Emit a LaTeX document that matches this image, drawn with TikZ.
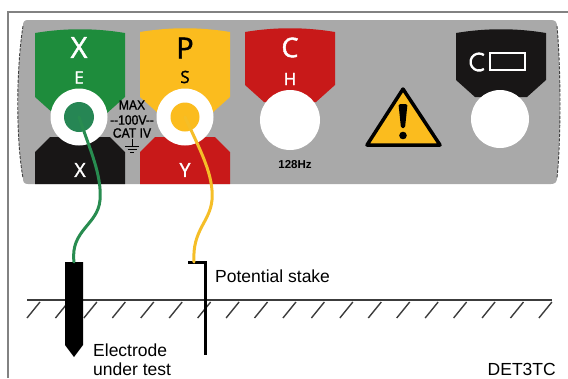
\documentclass[tikz,border=0pt]{standalone}
\usepackage{fontspec}
\setmainfont{Liberation Sans}
\newfontfamily\panelfont[FakeBold=1.6]{Open Sans}
\newfontfamily\ratingfont[FakeBold=1.2, FakeStretch=0.9]{Liberation Sans}

\definecolor{panelgray}{RGB}{169,169,169}
\definecolor{tabgreen}{RGB}{30,140,60}
\definecolor{dotgreen}{RGB}{38,134,84}
\definecolor{tabyellow}{RGB}{251,188,30}
\definecolor{tabred}{RGB}{200,25,25}
\definecolor{tabblack}{RGB}{24,22,22}
\definecolor{framegray}{RGB}{130,130,130}
\definecolor{wiregreen}{RGB}{40,140,80}
\definecolor{wireyellow}{RGB}{245,190,40}
\definecolor{groundgray}{RGB}{60,60,60}

\tikzset{
  % upper socket tab: #1 top edge, #2 where the sides start to narrow
  pics/toptab/.style args={#1/#2}{code={
    \path[pic actions] (-45,#1) .. controls (-15,#1-5) and (15,#1-5) .. (45,#1)
      -- (45,#2) -- (26,#2+17) -- (-26,#2+17) -- (-45,#2) -- cycle;}},
  % lower socket tab, running down to the panel edge
  pics/lowtab/.style={code={
    \path[pic actions] (-45,184) -- (-45,152) -- (-30,137) -- (30,137)
      -- (45,152) -- (45,184) -- cycle;}},
  socket/.style={circle, fill=white, inner sep=0pt, minimum size=#1},
  plug/.style={circle, inner sep=0pt, minimum size=#1},
  bigletter/.style={font=\panelfont\fontsize{29}{29}\selectfont, inner sep=0pt},
  smallletter/.style={font=\panelfont\fontsize{17}{17}\selectfont, inner sep=0pt},
  lowletter/.style={font=\panelfont\fontsize{19.5}{19.5}\selectfont, inner sep=0pt, text=white},
  rating/.style={font=\ratingfont\fontsize{13.5}{13.5}\selectfont, inner sep=0pt},
  wire/.style={line width=3pt, line cap=round},
  caption/.style={font=\fontsize{17.5}{17.5}\selectfont, inner sep=0pt},
}

\begin{document}
\begin{tikzpicture}[x=1pt, y=-1pt]
\useasboundingbox (0,0) rectangle (568,378);

% outer frame
\draw[framegray, line width=1.5pt] (8,378) -- (8,12) -- (568,12);

% instrument panel
\fill[panelgray] (28,20) -- (551,20) .. controls (555,20) and (557,22) .. (557,26)
  .. controls (561,70) and (561,140) .. (557,178)
  .. controls (557,182) and (555,184) .. (551,184) -- (28,184)
  .. controls (24,184) and (23,182) .. (23,178)
  .. controls (16,140) and (16,70) .. (23,26)
  .. controls (23,22) and (24,20) .. (28,20) -- cycle;
\draw[black!75, line width=0.9pt, dash pattern=on 3pt off 1.5pt]
  (23,26) .. controls (16,70) and (16,140) .. (23,178);
\draw[black!75, line width=0.9pt, dash pattern=on 3pt off 1.5pt]
  (557,26) .. controls (561,70) and (561,140) .. (557,178);

% socket tabs
\pic[fill=tabgreen]  at (80,0)  {toptab=33/97};
\pic[fill=tabyellow] at (185,0) {toptab=32/97};
\pic[fill=tabred]    at (290,0) {toptab=32/85};
\pic[fill=tabblack]  at (501,0) {toptab=33/80};
\pic[fill=tabblack]  at (80,0)  {lowtab};
\pic[fill=tabred]    at (185,0) {lowtab};

% sockets
\node[socket=57pt] (esock) at (79,117) {};
\node[plug=30pt, fill=dotgreen] (eplug) at (esock.center) {};
\node[socket=57pt] (ssock) at (185,117) {};
\node[plug=29pt, fill=tabyellow] (splug) at (ssock.center) {};
\node[socket=60pt] (hsock) at (290,120) {};
\node[socket=58pt] (csock) at (500,119) {};

% terminal letters
\node[bigletter, text=white] (lX) at (79,47.5) {X};
\node[smallletter, text=white] (lE) at (79,77.5) {E};
\node[bigletter, text=black] (lP) at (185,48) {P};
\node[smallletter, text=black] (lS) at (185,77) {S};
\node[font=\panelfont\fontsize{27}{27}\selectfont, inner sep=0pt, text=white] (lC) at (290,47.5) {C};
\node[smallletter, text=white] (lH) at (290,79) {H};
\node[lowletter] (lX2) at (80,170) {X};
\node[lowletter] (lY) at (185,170) {Y};

% voltage rating and earth symbol
\node[rating] (rmax) at (132,105) {MAX};
\node[rating] (rvolt) at (132,120) {--100V--};
\node[rating] (rcat) at (132,133) {CAT IV};
\draw[line width=1pt] (132,139) -- (132,146)
  (125,146) -- (139,146) (127.5,149) -- (136.5,149) (130,152) -- (134,152);

\node[font=\bfseries\fontsize{11.5}{11.5}\selectfont, inner sep=0pt] (freq) at (295,165) {128Hz};

% warning sign
\draw[black, fill=tabyellow, line width=3.5pt, line join=round]
  (403,89) -- (440,145) -- (367,145) -- cycle;
\fill[black, rounded corners=1.5pt] (398.5,104) -- (407.5,104) -- (405,128) -- (401,128) -- cycle;
\fill[black] (403,135.5) circle[radius=3.8];

% clamp symbol
\draw[white, line width=2.3pt] (483.9,69) arc[start angle=55, end angle=305, radius=8.5];
\draw[white, line width=2pt, fill=tabblack] (490,53) rectangle (525,70);

% ground with hatching
\draw[groundgray, line width=1.4pt] (27,300) -- (552,300);
\foreach \i in {0,...,18}
  \draw[groundgray, line width=1.4pt] ({40+\i*28.44},302) -- ({27+\i*28.44},318);

% electrode under test
\coordinate (etop) at (74,262);
\fill[black] (65,262) -- (83,262) -- (83,345) -- (74,357) -- (65,345) -- cycle;

% potential stake
\coordinate (stop) at (194,262);
\draw[black, line width=3pt] (188,262) -- (205,262) -- (205,355);

% test leads
\draw[wire, wiregreen] (eplug.center) .. controls (90,150) and (102,175) .. (100,200)
  .. controls (98,225) and (70,230) .. (etop);
\draw[wire, wireyellow] (splug.center) .. controls (200,150) and (214,175) .. (212,200)
  .. controls (210,222) and (192,230) .. (stop);

% captions
\node[caption, anchor=base west] (pstake) at (215,282) {Potential stake};
\node[caption, anchor=base west] (elec1) at (93,356) {Electrode};
\node[caption, anchor=base west] (elec2) at (93,375) {under test};
\node[caption, anchor=base east] (model) at (556,375) {DET3TC};
\end{tikzpicture}
\end{document}
